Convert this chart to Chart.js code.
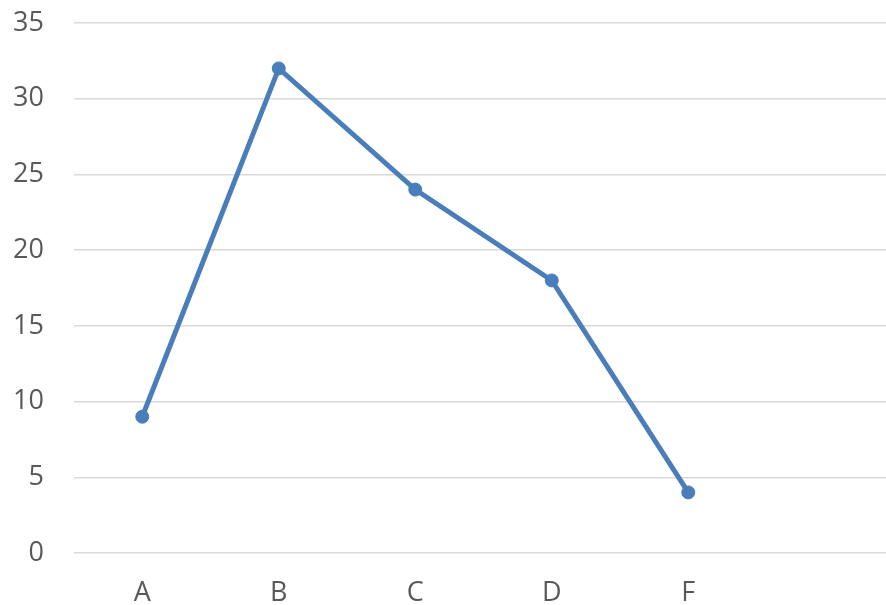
<!DOCTYPE html>
<html>
<head>
<meta charset="utf-8">
<script src="https://cdn.jsdelivr.net/npm/chart.js@4"></script>
<style>
  html, body { margin: 0; padding: 0; overflow: hidden; background: #fff; }
  #wrap { width: 893px; height: 605px; }
  canvas { display: block; }
</style>
</head>
<body>
<!-- the original plot runs a few pixels past the right edge of the window -->
<div id="wrap"><canvas id="lineChart" width="893" height="605"></canvas></div>
<script>
// categories and values (last category is empty)
const categories = ["A", "B", "C", "D", "F", ""];
const values = [9, 32, 24, 18, 4];
const yTicks = [0, 5, 10, 15, 20, 25, 30, 35];

const lineBlue = "#4a7ebb";
const gridGray = "#d9d9d9";
const textGray = "#595959";

const config = {
  type: "line",
  data: {
    labels: categories,
    datasets: [
      {
        label: "Series 1",
        data: values,
        borderColor: lineBlue,
        backgroundColor: lineBlue,
        borderWidth: 5,
        pointRadius: 6.5,
        pointBorderWidth: 1,
        pointHoverRadius: 6.5,
        tension: 0,
      },
    ],
  },
  options: {
    responsive: false,
    animation: false,
    layout: {
      autoPadding: false,
      padding: { left: 0, top: 23, right: 0, bottom: 0 },
    },
    plugins: {
      legend: { display: false },
      tooltip: { enabled: false },
    },
    scales: {
      x: {
        offset: true,
        grid: { display: false, drawTicks: false },
        border: { display: false },
        ticks: {
          color: textGray,
          padding: 27,
          font: { family: "Open Sans", size: 27, lineHeight: 1 },
        },
        afterFit: (axis) => {
          axis.height = 52;
          axis.paddingLeft = 0;
          axis.paddingRight = 0;
        },
      },
      y: {
        min: 0,
        max: 35,
        afterBuildTicks: (axis) => {
          axis.ticks = yTicks.map((v) => ({ value: v }));
        },
        grid: { color: gridGray, lineWidth: 1.5, drawTicks: false },
        border: { display: false },
        ticks: {
          color: textGray,
          padding: 30,
          font: { family: "Open Sans", size: 27, lineHeight: 1 },
        },
        afterFit: (axis) => {
          axis.width = 74;
          axis.paddingTop = 0;
          axis.paddingBottom = 0;
        },
      },
    },
  },
};

const ctx = document.getElementById("lineChart").getContext("2d");
const myChart = new Chart(ctx, config);
</script>
</body>
</html>
